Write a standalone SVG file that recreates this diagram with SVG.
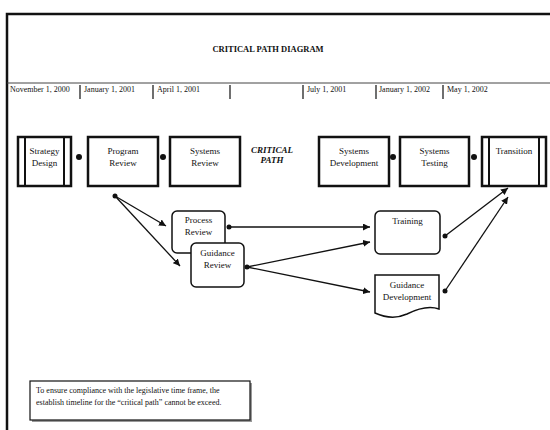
<svg xmlns="http://www.w3.org/2000/svg" width="550" height="430" viewBox="0 0 550 430">
  <style>
    text { font-family: "Liberation Serif", "Times New Roman", serif; fill: #111; }
    .t { font-size: 9px; text-anchor: middle; }
    .d { font-size: 8px; }
    .main { fill: #fff; stroke: #111; stroke-width: 2.5; }
    .bar { stroke: #111; stroke-width: 2; }
    .sub { fill: #fff; stroke: #111; stroke-width: 1.5; }
    .dot { fill: #111; }
    .tick { stroke: #222; stroke-width: 1.3; }
    .con { fill: none; stroke: #111; stroke-width: 1.3; marker-end: url(#arr); }
  </style>
  <defs>
    <marker id="arr" viewBox="0 0 10 10" refX="10" refY="5" markerWidth="7" markerHeight="7" orient="auto" markerUnits="userSpaceOnUse">
      <path d="M0,0 L10,5 L0,10 Z" fill="#111"/>
    </marker>
  </defs>

  <rect width="550" height="430" fill="#fff"/>

  <!-- page frame -->
  <path d="M7,430 V14 H550" fill="none" stroke="#111" stroke-width="2.5"/>
  <text x="268" y="52" font-size="8.5" font-weight="bold" text-anchor="middle">CRITICAL PATH DIAGRAM</text>

  <!-- timeline -->
  <g id="timeline">
    <line x1="7" y1="83" x2="550" y2="83" stroke="#444" stroke-width="1"/>
    <line class="tick" x1="80" y1="85" x2="80" y2="99"/>
    <line class="tick" x1="153" y1="85" x2="153" y2="99"/>
    <line class="tick" x1="230" y1="85" x2="230" y2="99" stroke="#777"/>
    <line class="tick" x1="303" y1="85" x2="303" y2="99"/>
    <line class="tick" x1="376" y1="85" x2="376" y2="99" stroke="#777"/>
    <line class="tick" x1="443" y1="85" x2="443" y2="99"/>
    <text class="d" x="10" y="92">November 1, 2000</text>
    <text class="d" x="84" y="92">January 1, 2001</text>
    <text class="d" x="157" y="92">April 1, 2001</text>
    <text class="d" x="307" y="92">July 1, 2001</text>
    <text class="d" x="379" y="92">January 1, 2002</text>
    <text class="d" x="447" y="92">May 1, 2002</text>
  </g>

  <!-- critical path row -->
  <g id="strategy-design">
    <rect class="main" x="18" y="137" width="53" height="49"/>
    <line class="bar" x1="25" y1="137" x2="25" y2="186"/>
    <line class="bar" x1="64" y1="137" x2="64" y2="186"/>
    <text class="t" x="44.5" y="154">Strategy</text>
    <text class="t" x="44.5" y="166">Design</text>
  </g>
  <g id="program-review">
    <rect class="main" x="88" y="137" width="70" height="49"/>
    <text class="t" x="123" y="154">Program</text>
    <text class="t" x="123" y="166">Review</text>
  </g>
  <g id="systems-review">
    <rect class="main" x="170" y="137" width="70" height="49"/>
    <text class="t" x="205" y="154">Systems</text>
    <text class="t" x="205" y="166">Review</text>
  </g>
  <g id="critical-path-label">
    <text class="t" x="272" y="153" font-weight="bold" font-style="italic">CRITICAL</text>
    <text class="t" x="272" y="163" font-weight="bold" font-style="italic">PATH</text>
  </g>
  <g id="systems-development">
    <rect class="main" x="319" y="137" width="70" height="49"/>
    <text class="t" x="354" y="154">Systems</text>
    <text class="t" x="354" y="166">Development</text>
  </g>
  <g id="systems-testing">
    <rect class="main" x="400" y="137" width="69" height="49"/>
    <text class="t" x="434.5" y="154">Systems</text>
    <text class="t" x="434.5" y="166">Testing</text>
  </g>
  <g id="transition">
    <rect class="main" x="482" y="137" width="64" height="49"/>
    <line class="bar" x1="489" y1="137" x2="489" y2="186"/>
    <line class="bar" x1="539" y1="137" x2="539" y2="186"/>
    <text class="t" x="514" y="154">Transition</text>
  </g>

  <!-- parallel activities -->
  <g id="process-review">
    <rect class="sub" x="172" y="211" width="53" height="42" rx="5"/>
    <text class="t" x="198.5" y="223">Process</text>
    <text class="t" x="198.5" y="235">Review</text>
  </g>
  <g id="guidance-review">
    <rect class="sub" x="191" y="243" width="53" height="44" rx="5"/>
    <text class="t" x="217.5" y="256">Guidance</text>
    <text class="t" x="217.5" y="268">Review</text>
  </g>
  <g id="training">
    <rect class="sub" x="375" y="211" width="65" height="43" rx="5"/>
    <text class="t" x="407.5" y="224">Training</text>
  </g>
  <g id="guidance-development">
    <path class="sub" d="M375,275 H439 V309 C428,305 417,309 407,314 C396,319 386,318 375,313 Z"/>
    <text class="t" x="407" y="288">Guidance</text>
    <text class="t" x="407" y="300">Development</text>
  </g>

  <!-- connectors -->
  <g id="connectors">
    <circle class="dot" cx="79" cy="157" r="3"/>
    <circle class="dot" cx="163" cy="157" r="3"/>
    <circle class="dot" cx="393" cy="157" r="3"/>
    <circle class="dot" cx="474" cy="157" r="3"/>

    <circle class="dot" cx="115" cy="196" r="2.5"/>
    <line class="con" x1="115" y1="196" x2="166" y2="226"/>
    <line class="con" x1="115" y1="196" x2="180" y2="266"/>

    <circle class="dot" cx="229" cy="227" r="2.5"/>
    <line class="con" x1="229" y1="227" x2="370" y2="227"/>

    <circle class="dot" cx="247" cy="267" r="2.5"/>
    <line class="con" x1="247" y1="267" x2="370" y2="242"/>
    <line class="con" x1="247" y1="267" x2="370" y2="292"/>

    <circle class="dot" cx="445" cy="236" r="2.5"/>
    <line class="con" x1="445" y1="236" x2="508" y2="188"/>
    <circle class="dot" cx="445" cy="291" r="2.5"/>
    <line class="con" x1="445" y1="291" x2="508" y2="197"/>
  </g>

  <!-- note -->
  <g id="note">
    <rect x="32" y="383" width="220" height="39" fill="#999"/>
    <rect x="30" y="381" width="220" height="39" fill="#fff" stroke="#111" stroke-width="1.2"/>
    <text class="d" x="36" y="393">To ensure compliance with the legislative time frame, the</text>
    <text class="d" x="36" y="405">establish timeline for the “critical path” cannot be exceed.</text>
  </g>
</svg>
